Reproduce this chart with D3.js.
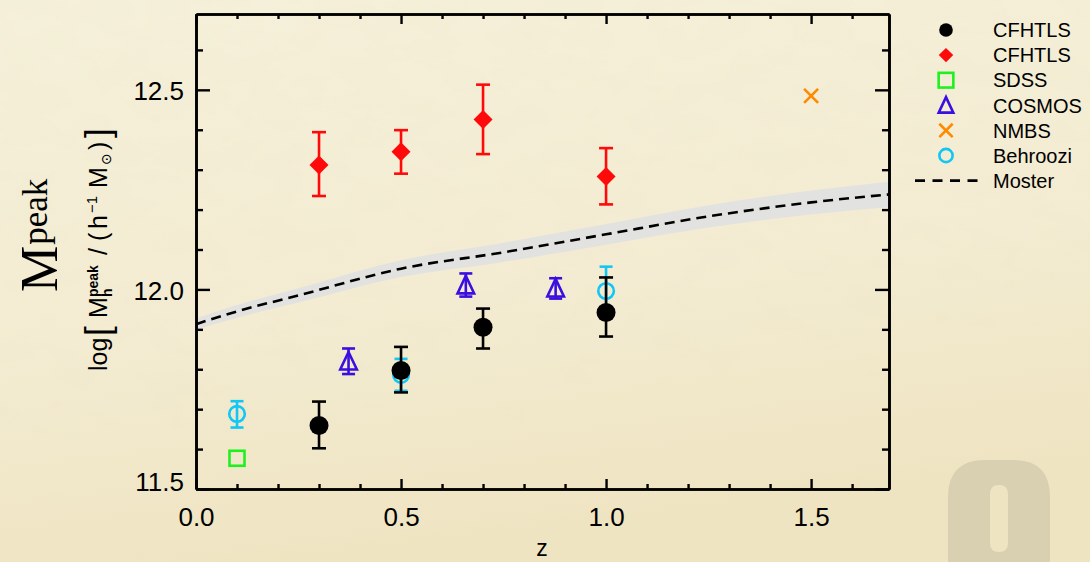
<!DOCTYPE html>
<html><head><meta charset="utf-8">
<script src="https://cdn.jsdelivr.net/npm/d3@7"></script>
<style>html,body{margin:0;padding:0;background:#f2ebd0;} svg{display:block}</style>
</head><body><svg id="c" width="1090" height="562"></svg>
<script>
// ---------- data ----------
const xMajorTicks = [0.0, 0.5, 1.0, 1.5];
const xMinorTicks = [0.1, 0.2, 0.3, 0.4, 0.6, 0.7, 0.8, 0.9, 1.1, 1.2, 1.3, 1.4, 1.6];
const yMajorTicks = [11.5, 12.0, 12.5];
const yMinorTicks = [11.6, 11.7, 11.8, 11.9, 12.1, 12.2, 12.3, 12.4, 12.6];

const cfhtlsZ  = [0.3, 0.5, 0.7, 1.0];
const cfhtlsM  = [11.659, 11.797, 11.905, 11.942];
const cfhtlsLo = [11.602, 11.742, 11.852, 11.882];
const cfhtlsHi = [11.719, 11.856, 11.952, 12.030];

const cfhtlsRedZ  = [0.3, 0.5, 0.7, 1.0];
const cfhtlsRedM  = [12.312, 12.345, 12.426, 12.283];
const cfhtlsRedLo = [12.234, 12.290, 12.339, 12.213];
const cfhtlsRedHi = [12.394, 12.399, 12.513, 12.354];

const sdssZ = [0.1];
const sdssM = [11.577];

const cosmosZ  = [0.372, 0.658, 0.877];
const cosmosM  = [11.820, 12.011, 12.003];
const cosmosLo = [11.788, 11.982, 11.977];
const cosmosHi = [11.852, 12.040, 12.028];

const nmbsZ = [1.5];
const nmbsM = [12.485];

const behrooziZ  = [0.1, 0.5, 1.0];
const behrooziM  = [11.688, 11.786, 11.996];
const behrooziLo = [11.654, 11.746, 11.936];
const behrooziHi = [11.720, 11.826, 12.057];

const mosterZ   = [0.0, 0.1, 0.25, 0.5, 0.75, 1.0, 1.25, 1.5, 1.69];
const mosterM   = [11.913, 11.945, 11.985, 12.052, 12.093, 12.138, 12.183, 12.218, 12.238];
const mosterErr = [0.014, 0.016, 0.018, 0.021, 0.024, 0.026, 0.028, 0.030, 0.032];

const legendLabels = ["CFHTLS", "CFHTLS", "SDSS", "COSMOS", "NMBS", "Behroozi", "Moster"];

// ---------- setup ----------
const W = 1090, H = 562;
const svg = d3.select("#c");
const defs = svg.append("defs");

const grad = defs.append("linearGradient").attr("id","bg").attr("x1",0).attr("y1",0).attr("x2",0.25).attr("y2",1);
grad.append("stop").attr("offset","0%").attr("stop-color","#f5f0da");
grad.append("stop").attr("offset","60%").attr("stop-color","#f3ecd2");
grad.append("stop").attr("offset","100%").attr("stop-color","#efe4c2");

const filt = defs.append("filter").attr("id","paper").attr("x",0).attr("y",0).attr("width","100%").attr("height","100%");
filt.append("feTurbulence").attr("type","fractalNoise").attr("baseFrequency","0.02 0.035").attr("numOctaves",4).attr("seed",7);
filt.append("feColorMatrix").attr("values","0 0 0 0 0.84  0 0 0 0 0.77  0 0 0 0 0.56  0.25 0 0 0 -0.08");

svg.append("rect").attr("width",W).attr("height",H).attr("fill","url(#bg)");
svg.append("rect").attr("width",W).attr("height",H).attr("filter","url(#paper)");

// watermark "0"
svg.append("path")
  .attr("d","M948,640 L948,497 Q948,460 985,460 L1013,460 Q1050,460 1050,497 L1050,640 Z " +
            "M990,494 Q990,485 999,485 Q1008,485 1008,494 L1008,543 Q1008,552 999,552 Q990,552 990,543 Z")
  .attr("fill","#d8d0b1").attr("fill-rule","evenodd");

const x = d3.scaleLinear().domain([0, 1.69]).range([196, 889]);
const y = d3.scaleLinear().domain([11.5, 12.69]).range([489, 14]);

// ---------- Moster band + line ----------
const moster = mosterZ.map((z,i)=>({z, m: mosterM[i], e: mosterErr[i]}));
svg.append("path").datum(moster)
  .attr("d", d3.area().x(d=>x(d.z)).y0(d=>y(d.m-d.e)).y1(d=>y(d.m+d.e)).curve(d3.curveMonotoneX))
  .attr("fill","#e2e2e0");
svg.append("path").datum(moster)
  .attr("d", d3.line().x(d=>x(d.z)).y(d=>y(d.m)).curve(d3.curveMonotoneX))
  .attr("fill","none").attr("stroke","#000").attr("stroke-width",2.6).attr("stroke-dasharray","10,6");

// ---------- helpers ----------
function errBars(zs, lo, hi, color, cap, sw) {
  const g = svg.append("g").attr("stroke", color).attr("stroke-width", sw).attr("fill","none");
  zs.forEach((z,i)=>{
    g.append("line").attr("x1",x(z)).attr("x2",x(z)).attr("y1",y(lo[i])).attr("y2",y(hi[i]));
    g.append("line").attr("x1",x(z)-cap/2).attr("x2",x(z)+cap/2).attr("y1",y(lo[i])).attr("y2",y(lo[i]));
    g.append("line").attr("x1",x(z)-cap/2).attr("x2",x(z)+cap/2).attr("y1",y(hi[i])).attr("y2",y(hi[i]));
  });
}
const COL = {red:"#ff0a0a", green:"#1ff01f", blue:"#3a0fe0", orange:"#ff8a00", cyan:"#12c6f6", black:"#000"};

function markerShape(g, type, cx, cy, s) {
  if (type === "circle") {
    g.append("circle").attr("cx",cx).attr("cy",cy).attr("r",9.5*s).attr("fill",COL.black);
  } else if (type === "diamond") {
    const r = 9.5*s;
    g.append("path").attr("d",`M${cx},${cy-r}L${cx+r},${cy}L${cx},${cy+r}L${cx-r},${cy}Z`).attr("fill",COL.red);
  } else if (type === "square") {
    const h = 7.5*s;
    g.append("rect").attr("x",cx-h).attr("y",cy-h).attr("width",2*h).attr("height",2*h)
      .attr("fill","none").attr("stroke",COL.green).attr("stroke-width",2.6);
  } else if (type === "triangle") {
    const a = 9.3*s, b = 8.3*s;
    g.append("path").attr("d",`M${cx},${cy-a}L${cx+b},${cy+b}L${cx-b},${cy+b}Z`)
      .attr("fill","none").attr("stroke",COL.blue).attr("stroke-width",2.6).attr("stroke-linejoin","miter");
  } else if (type === "cross") {
    const h = 7*s;
    g.append("path").attr("d",`M${cx-h},${cy-h}L${cx+h},${cy+h}M${cx-h},${cy+h}L${cx+h},${cy-h}`)
      .attr("stroke",COL.orange).attr("stroke-width",2.6);
  } else if (type === "ocircle") {
    g.append("circle").attr("cx",cx).attr("cy",cy).attr("r",7.8*s)
      .attr("fill","none").attr("stroke",COL.cyan).attr("stroke-width",2.6);
  }
}

const gPts = svg.append("g");
sdssZ.forEach((z,i)=>markerShape(gPts,"square",x(z),y(sdssM[i]),1));
errBars(cosmosZ, cosmosLo, cosmosHi, COL.blue, 13, 2.6);
const gC = svg.append("g");
cosmosZ.forEach((z,i)=>markerShape(gC,"triangle",x(z),y(cosmosM[i]),1));
errBars(behrooziZ, behrooziLo, behrooziHi, COL.cyan, 13, 2.6);
const gB = svg.append("g");
behrooziZ.forEach((z,i)=>markerShape(gB,"ocircle",x(z),y(behrooziM[i]),1));
errBars(cfhtlsZ, cfhtlsLo, cfhtlsHi, COL.black, 14, 2.6);
const gK = svg.append("g");
cfhtlsZ.forEach((z,i)=>markerShape(gK,"circle",x(z),y(cfhtlsM[i]),1));
errBars(cfhtlsRedZ, cfhtlsRedLo, cfhtlsRedHi, COL.red, 14, 2.6);
const gR = svg.append("g");
cfhtlsRedZ.forEach((z,i)=>markerShape(gR,"diamond",x(z),y(cfhtlsRedM[i]),1));
const gN = svg.append("g");
nmbsZ.forEach((z,i)=>markerShape(gN,"cross",x(z),y(nmbsM[i]),1));

// ---------- axes ----------
function styleAxis(g){
  g.selectAll("path.domain").attr("stroke","#000").attr("stroke-width",2.6);
  g.selectAll(".tick line").attr("stroke","#000").attr("stroke-width",2.4);
  g.selectAll("text").attr("fill","#000").attr("font-family","'Liberation Sans', Arial, sans-serif").attr("font-size",26);
}
const axB = svg.append("g").attr("transform",`translate(0,${y.range()[0]})`)
  .call(d3.axisBottom(x).tickValues(xMajorTicks).tickSize(-10).tickSizeOuter(0).tickPadding(19).tickFormat(d3.format(".1f")));
styleAxis(axB);
const axBm = svg.append("g").attr("transform",`translate(0,${y.range()[0]})`)
  .call(d3.axisBottom(x).tickValues(xMinorTicks).tickSize(-5).tickSizeOuter(0).tickFormat(""));
styleAxis(axBm);
const axT = svg.append("g").attr("transform",`translate(0,${y.range()[1]})`)
  .call(d3.axisTop(x).tickValues(xMajorTicks).tickSize(-10).tickSizeOuter(0).tickFormat(""));
styleAxis(axT);
const axTm = svg.append("g").attr("transform",`translate(0,${y.range()[1]})`)
  .call(d3.axisTop(x).tickValues(xMinorTicks).tickSize(-5).tickSizeOuter(0).tickFormat(""));
styleAxis(axTm);
const axL = svg.append("g").attr("transform",`translate(${x.range()[0]},0)`)
  .call(d3.axisLeft(y).tickValues(yMajorTicks).tickSize(-14).tickSizeOuter(0).tickPadding(12).tickFormat(d3.format(".1f")));
styleAxis(axL);
axL.selectAll(".tick text").attr("dy", d => d === 11.5 ? "0.05em" : "0.38em");
const axLm = svg.append("g").attr("transform",`translate(${x.range()[0]},0)`)
  .call(d3.axisLeft(y).tickValues(yMinorTicks).tickSize(-7).tickSizeOuter(0).tickFormat(""));
styleAxis(axLm);
const axR = svg.append("g").attr("transform",`translate(${x.range()[1]},0)`)
  .call(d3.axisRight(y).tickValues(yMajorTicks).tickSize(-14).tickSizeOuter(0).tickFormat(""));
styleAxis(axR);
const axRm = svg.append("g").attr("transform",`translate(${x.range()[1]},0)`)
  .call(d3.axisRight(y).tickValues(yMinorTicks).tickSize(-7).tickSizeOuter(0).tickFormat(""));
styleAxis(axRm);

// x title
svg.append("text").attr("x",542).attr("y",556).attr("text-anchor","middle")
  .attr("font-family","'Liberation Sans', Arial, sans-serif").attr("font-size",23).text("z");

// ---------- y titles ----------
const SERIF = "'Liberation Serif','Times New Roman',serif";
const t1 = svg.append("g").attr("transform","translate(57,292) rotate(-90)");
const big = t1.append("text").attr("x",0).attr("y",0).attr("font-family",SERIF)
  .attr("font-size",52).attr("fill","#000").text("M");
const bw = big.node().getComputedTextLength();
t1.append("text").attr("x",bw+1).attr("y",-10).attr("font-family",SERIF)
  .attr("font-size",35).attr("fill","#000").text("peak");

const t2 = svg.append("g").attr("transform","translate(107,371) rotate(-90)");
const SF = "'Liberation Sans', Arial, 'DejaVu Sans', sans-serif";
// each piece: text, local x start, font size, baseline offset, weight
function piece(txt, px, size, dy, weight, family) {
  t2.append("text").attr("x",px).attr("y",dy).attr("font-family",family||SF)
    .attr("font-size",size).attr("font-weight",weight||"normal").attr("fill","#000").text(txt);
}
piece("log", 0, 25, 0);
piece("[", 35, 35, 3);
piece("M", 53, 25, 0);
piece("peak", 74, 14, -9, "bold");
piece("h", 74, 14, 5, "bold");
piece("/", 116, 25, 0);
piece("(", 130, 25, 0);
piece("h", 142, 25, 0);
piece("\u22121", 158, 15, -10);
piece("M", 183, 25, 0);
piece("\u2299", 206, 14, 4, "normal", "'DejaVu Sans', sans-serif");
piece(")", 221, 25, 0);
piece("]", 233, 35, 3);

// ---------- legend ----------
const legTypes = ["circle","diamond","square","triangle","cross","ocircle","dash"];
const legScale = [0.72, 0.76, 0.98, 0.88, 0.95, 0.85, 1];
const lg = svg.append("g");
legendLabels.forEach((lab,i)=>{
  const yy = 30 + i*25.1;
  if (legTypes[i] === "dash") {
    lg.append("line").attr("x1",915).attr("x2",978).attr("y1",yy).attr("y2",yy)
      .attr("stroke","#000").attr("stroke-width",2.6).attr("stroke-dasharray","10,7.5");
  } else {
    markerShape(lg, legTypes[i], 946, yy, legScale[i]);
  }
  lg.append("text").attr("x",993).attr("y",yy).attr("dy","0.36em")
    .attr("font-family","'Liberation Sans', Arial, sans-serif").attr("font-size",20).attr("fill","#000").text(lab);
});
</script></body></html>
